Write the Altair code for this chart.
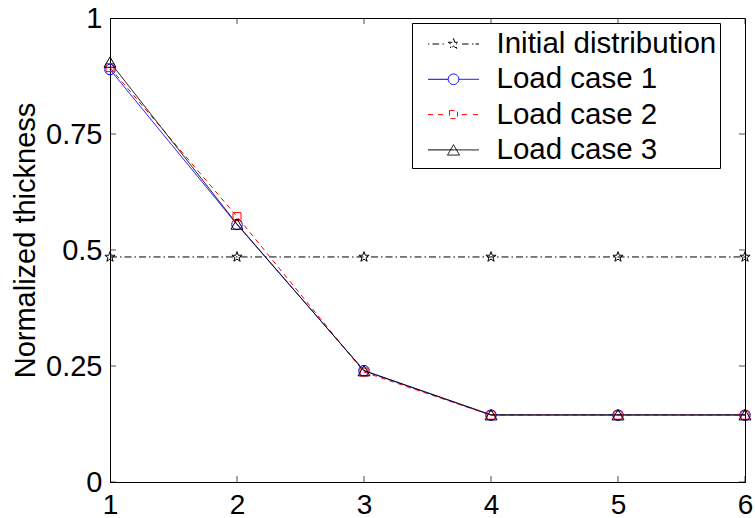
import math
import altair as alt
import pandas as pd

# ---------------- data ----------------
x_vals = [1, 2, 3, 4, 5, 6]
initial = [0.485, 0.485, 0.485, 0.485, 0.485, 0.485]
load1 = [0.889, 0.555, 0.240, 0.144, 0.144, 0.144]
load2 = [0.893, 0.572, 0.237, 0.144, 0.144, 0.144]
load3 = [0.905, 0.556, 0.240, 0.145, 0.145, 0.145]
series_names = ["Initial distribution", "Load case 1", "Load case 2", "Load case 3"]
x_ticks = [1, 2, 3, 4, 5, 6]
y_ticks = [0, 0.25, 0.5, 0.75, 1]
y_title = "Normalized thickness"

series_vals = [initial, load1, load2, load3]
rows = []
for name, vals in zip(series_names, series_vals):
    for xv, yv in zip(x_vals, vals):
        rows.append({"x": xv, "value": yv, "series": name, "dash_key": name})
df = pd.DataFrame(rows)
xt_df = pd.DataFrame({"x": x_ticks})
yt_df = pd.DataFrame({"value": y_ticks})

# ---------------- styles ----------------
FONT = "Liberation Sans"
colors = ["black", "blue", "red", "black"]
dashes = [[7, 3, 1.5, 3], [1, 0], [5, 4], [1, 0]]


def star_path(R, r, s=1.0):
    pts = []
    for k in range(10):
        ang = math.radians(-90 + 36 * k)
        rad = R if k % 2 == 0 else r
        pts.append(f"{rad * math.cos(ang) / s:.4f},{rad * math.sin(ang) / s:.4f}")
    return "M" + "L".join(pts) + "Z"


# legend symbol paths (line + marker), in units of 17px (symbolSize 34^2)
U = 17.0


def seg(a, b):
    return f"M{a / U:.4f},0L{b / U:.4f},0"


def dot(a):
    return seg(a, a + 1.3)


rc = 5.3
circle_leg = (f"M{rc / U:.4f},0A{rc / U:.4f},{rc / U:.4f} 0 1,1 {-rc / U:.4f},0"
              f"A{rc / U:.4f},{rc / U:.4f} 0 1,1 {rc / U:.4f},0Z")
sq = 4.0
square_leg = (f"M{-sq / U:.4f},{-sq / U:.4f}L{sq / U:.4f},{-sq / U:.4f}"
              f"L{sq / U:.4f},{sq / U:.4f}L{-sq / U:.4f},{sq / U:.4f}Z")
tri_leg = (f"M0,{-5.2 / U:.4f}L{-6 / U:.4f},{5.2 / U:.4f}L{6 / U:.4f},{5.2 / U:.4f}Z")

legend_paths = [
    dot(-25.5) + seg(-21, -14.5) + dot(-11) + star_path(5.5, 2.1, U)
    + seg(8.5, 15) + dot(18.5) + seg(22, 25.5),
    seg(-25.5, -rc) + circle_leg + seg(rc, 25.5),
    seg(-25.5, -20.5) + seg(-15.5, -9.5) + square_leg + seg(8.5, 14.5) + seg(19.5, 25.5),
    seg(-25.5, 0) + seg(0, 25.5) + tri_leg,
]

marker_shapes = [star_path(1, 0.4), "circle", "square", "triangle-up"]
marker_sizes = [115, 110, 64, 144]

xscale = alt.Scale(domain=[1, 6], nice=False, zero=False)
yscale = alt.Scale(domain=[0, 1], nice=False, zero=False)
color_scale = alt.Scale(domain=series_names, range=colors)

xaxis = alt.Axis(values=x_ticks, format="d", title=None, grid=False, ticks=False,
                 labelFont=FONT, labelFontSize=28, labelColor="black",
                 labelPadding=9.5, labelFlush=False, domainColor="black")
yaxis = alt.Axis(values=y_ticks, format=".2~f", title=y_title, grid=False, ticks=False,
                 labelFont=FONT, labelFontSize=29, labelColor="black",
                 labelPadding=8, labelFlush=False, domainColor="black",
                 titleFont=FONT, titleFontSize=29, titleFontWeight="normal",
                 titleColor="black", titlePadding=5, titleY=222)

leg = alt.Legend(
    orient="none", legendX=302, legendY=5, padding=3.5,
    strokeColor="black", fillColor="white",
    labelFont=FONT, labelFontSize=29.5, labelColor="black", labelLimit=400,
    symbolSize=1156, symbolStrokeWidth=1, symbolOffset=20.5,
    labelOffset=25.5, rowPadding=3.3, symbolFillColor="transparent",
    labelExpr="datum.label + '\u00a0\u00a0'",
)

X = alt.X("x:Q", scale=xscale, axis=xaxis)
Y = alt.Y("value:Q", scale=yscale, axis=yaxis)
C = alt.Color("series:N", scale=color_scale, legend=leg, title=None)

base = alt.Chart(df)

lines = base.mark_line(strokeWidth=1).encode(
    x=X, y=Y, color=C,
    strokeDash=alt.StrokeDash("dash_key:N", scale=alt.Scale(domain=series_names, range=dashes),
                              legend=None),
)

point_layers = []
for name, shp, sz in zip(series_names, marker_shapes, marker_sizes):
    point_layers.append(
        base.transform_filter(alt.datum.series == name)
        .mark_point(shape=shp, size=sz, filled=False, strokeWidth=1, opacity=1)
        .encode(x=X, y=Y, color=C)
    )

legend_layer = base.transform_filter("false").mark_point(filled=False, strokeWidth=1).encode(
    x=X, y=Y, color=C,
    shape=alt.Shape("series:N", scale=alt.Scale(domain=series_names, range=legend_paths),
                    legend=leg, title=None),
)

tick_kw = dict(color="black", thickness=1, size=12, clip=True)
tick_bottom = alt.Chart(xt_df).mark_tick(orient="vertical", **tick_kw).encode(
    x=X, y=alt.YDatum(0, scale=yscale, axis=yaxis))
tick_top = alt.Chart(xt_df).mark_tick(orient="vertical", **tick_kw).encode(
    x=X, y=alt.YDatum(1, scale=yscale, axis=yaxis))
tick_left = alt.Chart(yt_df).mark_tick(orient="horizontal", **tick_kw).encode(
    y=Y, x=alt.XDatum(1, scale=xscale, axis=xaxis))
tick_right = alt.Chart(yt_df).mark_tick(orient="horizontal", **tick_kw).encode(
    y=Y, x=alt.XDatum(6, scale=xscale, axis=xaxis))

chart = alt.layer(
    tick_bottom, tick_top, tick_left, tick_right, lines, *point_layers, legend_layer
).properties(
    width=635, height=464,
    autosize=alt.AutoSizeParams(type="none"),
    padding={"left": 110, "top": 18, "right": 10, "bottom": 36},
    background="white",
).configure_view(
    stroke="black", strokeWidth=1
)

chart.save("out.html", embed_options={"renderer": "svg", "actions": False})
